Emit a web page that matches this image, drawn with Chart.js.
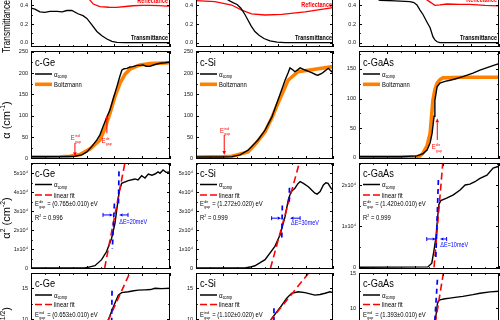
<!DOCTYPE html>
<html><head><meta charset="utf-8">
<script src="https://cdn.jsdelivr.net/npm/chart.js"></script>
<style>
html,body{margin:0;padding:0;background:#fff;overflow:hidden;width:500px;height:320px;position:relative}
canvas{position:absolute}
</style></head><body>
<script>
// ================= DATA =================
const materials = ['c-Ge', 'c-Si', 'c-GaAs'];
const xRanges = [[0.5, 1.0], [1.0, 1.5], [1.15, 1.65]];

// Row 1: transmittance / reflectance
const geT_E = [0.500,0.514,0.532,0.550,0.568,0.594,0.612,0.629,0.647,0.669,0.687,0.701,0.719,0.737,0.755,0.773,0.791,0.809,0.838,0.900,1.000];
const geT   = [0.370,0.360,0.330,0.325,0.335,0.335,0.330,0.345,0.345,0.310,0.290,0.260,0.190,0.120,0.075,0.040,0.015,0.004,0.000,0.000,0.000];
const geR_E = [0.500,0.650,0.690,0.705,0.712,0.724,0.748,0.780,0.808,0.840,0.867,0.900,0.928,0.960,0.989,1.000];
const geR   = [0.620,0.620,0.580,0.500,0.457,0.414,0.386,0.380,0.379,0.388,0.396,0.400,0.400,0.397,0.393,0.395];
const siT_E = [1.000,1.080,1.100,1.117,1.135,1.150,1.164,1.179,1.190,1.201,1.215,1.230,1.248,1.270,1.296,1.325,1.500];
const siT   = [0.530,0.530,0.510,0.457,0.430,0.410,0.370,0.300,0.240,0.180,0.120,0.080,0.045,0.020,0.006,0.000,0.000];
const siR_E = [1.000,1.069,1.130,1.167,1.203,1.252,1.313,1.398,1.500];
const siR   = [0.450,0.440,0.404,0.350,0.310,0.297,0.304,0.330,0.376];
const gaT_E = [1.150,1.200,1.225,1.279,1.332,1.346,1.357,1.368,1.379,1.393,1.404,1.414,1.421,1.429,1.439,1.650];
const gaT   = [0.500,0.490,0.455,0.448,0.440,0.430,0.405,0.350,0.300,0.220,0.160,0.065,0.030,0.010,0.000,0.000];
const gaR_E = [1.150,1.370,1.393,1.407,1.421,1.439,1.464,1.511,1.546,1.600,1.646,1.650];
const gaR   = [0.600,0.600,0.457,0.430,0.400,0.405,0.415,0.410,0.410,0.400,0.395,0.395];

// Row 2: alpha (cm^-1) and Boltzmann fit
const geA_E = [0.500,0.550,0.604,0.658,0.683,0.701,0.719,0.737,0.748,0.759,0.770,0.784,0.795,0.809,0.820,0.827,0.835,0.845,0.856,0.867,0.881,0.892,0.903,0.914,0.928,0.946,0.964,0.982,1.000];
const geA   = [3.5,3.5,4,5,8,15,28,43,55,74,92,113,138,168,193,207,210,211,214,215,218,218,219,216,216,220,223,224,226];
const geB_E = [0.500,0.604,0.640,0.676,0.712,0.748,0.766,0.784,0.802,0.820,0.838,0.856,0.892,0.928,1.000];
const geB   = [3,3.5,5,9,22,43,70,106,145,176,197,209,219,222,224];
const siA_E = [1.000,1.088,1.131,1.161,1.190,1.226,1.252,1.277,1.299,1.325,1.336,1.343,1.354,1.361,1.372,1.380,1.398,1.422,1.438,1.445,1.459,1.471,1.483,1.495,1.500];
const siA   = [3,3,4,8,19,43,66,97,136,183,200,212,207,203,208,212,207,201,196,195,199,205,211,203,206];
const siB_E = [1.000,1.106,1.131,1.190,1.219,1.252,1.277,1.299,1.336,1.372,1.434,1.500];
const siB   = [3,4,5,15,35,62,95,129,183,203,209,215];
const gaA_E = [1.150,1.296,1.357,1.379,1.393,1.404,1.411,1.418,1.421,1.429,1.439,1.457,1.475,1.493,1.521,1.557,1.582,1.618,1.636,1.650];
const gaA   = [1.7,1.7,3,7,13,25,41,70,97,120,126,129,131,133,137,143,148,154,157,159];
const gaB_E = [1.150,1.350,1.368,1.379,1.393,1.404,1.414,1.421,1.429,1.439,1.450,1.521,1.650];
const gaB   = [1,1,3,8,20,41,97,115,126,132,135,136,136];

// Row 3: alpha^2 (cm^-2)
const geA2_E = [0.500,0.694,0.712,0.730,0.754,0.772,0.790,0.802,0.810,0.818,0.826,0.850,0.874,0.885,0.898,0.910,0.922,0.935,0.946,0.957,0.964,0.975,0.986,1.000];
const geA2   = [0,0,600,1200,4400,8700,15700,23600,32400,40900,44700,46100,47000,46500,48700,47500,49600,49000,49600,50700,50000,51700,50500,50700];
const siA2_E = [1.000,1.179,1.197,1.215,1.252,1.288,1.307,1.325,1.337,1.347,1.361,1.372,1.380,1.392,1.410,1.423,1.434,1.442,1.453,1.465,1.474,1.482,1.493,1.500];
const siA2   = [0,0,500,1200,4400,11400,17500,27200,36000,40300,42100,44500,45600,44700,42900,41000,39500,39000,40300,43800,45000,44700,42000,41000];
const gaA2_E = [1.150,1.396,1.410,1.418,1.425,1.430,1.435,1.442,1.463,1.487,1.511,1.529,1.546,1.564,1.582,1.607,1.629,1.646,1.650];
const gaA2   = [0,100,1000,4200,7400,11500,15200,16200,16800,17600,18800,20000,20200,20800,21600,22400,24100,24500,24400];
const fitDir_E = [[0.765,0.845],[1.272,1.380],[1.418,1.450]];
const fitDir_V = [[0,61000],[0,57000],[0,26000]];
const blueDir_E = [[[0.8165,0.8145],[0.800,0.7925]], [[1.341,1.340],[1.315,1.313]], [[1.4335,1.4245]]];
const blueDir_V = [[[51000,33000],[34000,10000]], [[42300,33000],[33000,14000]], [[21200,2500]]];
const dEText = ['ΔE=20meV','ΔE=30meV','ΔE=10meV'];
const dEArrowY = [28000, 26300, 6880];
const dELeft  = [[0.759,0.795],[1.276,1.311],[1.392,1.425]];
const dERight = [[0.849,0.817],[1.380,1.343],[1.463,1.439]];
const dELabel = [[0.8176,23000],[1.347,22800],[1.4405,4860]];
const eDirText = ['(0.765±0.010) eV','(1.272±0.020) eV','(1.420±0.010) eV'];
const r2Text = ['0.996','0.999','0.999'];

// Row 4: alpha^(1/2) (cm^-1/2)
const geS_E = [0.500,0.600,0.660,0.700,0.737,0.759,0.778,0.796,0.814,0.826,0.850,0.870,0.886,0.910,0.930,0.946,0.970,1.000];
const geS   = [1.9,1.9,2.2,3.9,6.6,8.6,9.9,12.0,13.9,14.3,14.45,14.6,14.7,14.75,14.8,15.0,14.95,15.0];
const siS_E = [1.000,1.100,1.150,1.200,1.226,1.252,1.276,1.307,1.331,1.349,1.373,1.398,1.416,1.434,1.453,1.471,1.489,1.500];
const siS   = [1.7,2.0,2.6,4.5,6.6,8.1,10.1,11.9,13.4,14.2,14.45,14.3,14.1,13.9,14.0,14.2,14.45,14.3];
const gaS_E = [1.150,1.350,1.379,1.393,1.404,1.411,1.418,1.422,1.426,1.430,1.434,1.439,1.457,1.475,1.493,1.521,1.557,1.582,1.618,1.650];
const gaS   = [1.3,1.3,2.6,3.6,5.0,5.5,7.0,8.2,9.3,10.6,11.1,11.2,11.35,11.45,11.55,11.7,11.95,12.15,12.35,12.45];
const fitInd_E = [[0.678,0.855],[1.093,1.420],[1.391,1.455]];
const fitInd_V = [[0,17.45],[0,17.95],[0,16.0]];
const blueInd_E = [[0.7915,0.790],[1.2845,1.2845],[1.430,1.421]];
const blueInd_V = [[14.6,9.0],[11.8,9.0],[14.1,8.3]];
const eIndText = ['(0.653±0.010) eV','(1.102±0.020) eV','(1.393±0.010) eV'];

// Row 2 band-gap markers (arrow: E, from, to; label: E, value)
const gapArrows = [
  [{e:0.658,v1:36,v2:5,lab:'ind',lx:0.643,ly:42}, {e:0.773,v1:59,v2:101,lab:'dir',lx:0.754,ly:36.6}],
  [{e:1.103,v1:54.6,v2:7.7,lab:'ind',lx:1.0876,ly:60}],
  [{e:1.4296,v1:30,v2:66.6,lab:'dir',lx:1.4096,ly:14.2}]
];

// y-axis ranges and ticks per row/column
const yRanges = [
  [[-0.046,0.597],[-0.046,0.597],[-0.046,0.597]],
  [[-1.6,251.6],[-1.6,251.6],[-2.2,180.4]],
  [[-526,55420],[-526,55420],[-413,25350]],
  [[0.05,17.47],[0.05,17.47],[-0.5,15.07]]
];
const yTickVals = [
  [[0,0.2,0.4],[0,0.2,0.4],[0,0.2,0.4]],
  [[0,50,100,150,200,250],[0,50,100,150,200,250],[0,50,100,150]],
  [[0,1e4,2e4,3e4,4e4,5e4],[0,1e4,2e4,3e4,4e4,5e4],[0,1e4,2e4]],
  [[0,5,10,15],[0,5,10,15],[0,5,10,15]]
];
const yStep = [0.2, 50, 1e4, 5];

// ================= LAYOUT / DRAWING =================
const NARROW = (() => {
  const c = document.createElement('canvas').getContext('2d');
  c.font = '20px monospace'; const a = c.measureText('abcdefghijklmn').width;
  c.font = '20px "Liberation Sans Narrow", monospace'; const b = c.measureText('abcdefghijklmn').width;
  return Math.abs(a - b) > 0.5;
})();
const FAM = NARROW ? '"Liberation Sans Narrow","Liberation Sans",Arial,sans-serif' : '"Liberation Sans",Arial,sans-serif';
const FAM_N = '"Liberation Sans",Arial,sans-serif';
const SQ = NARROW ? 1 : 0.84;

const COLS = [{cl:0, pl:31, pr:170}, {cl:173, pl:196, pr:333}, {cl:337, pl:359, pr:499}];
const ROWS = [{pt:-13, pb:47}, {pt:51, pb:159}, {pt:163, pb:269}, {pt:273, pb:381}];
const PADT = 8, PADB = 12;

const pts = (xs, ys) => xs.map((x, i) => ({x, y: ys[i]}));
const ds = (xs, ys, color, w, dash) => ({data: pts(xs, ys), borderColor: color, borderWidth: w,
  borderDash: dash || [], pointRadius: 0, fill: false, tension: 0, borderCapStyle: 'butt'});

function drawRich(ctx, x, y, parts, o) {
  const size = o.size || 7, bold = o.bold ? 'bold ' : '';
  const fam = o.fam || FAM;
  const sq = (o.sq === undefined ? (o.fam ? 1 : SQ) : o.sq);
  const small = size * 0.62;
  const F = s => bold + s + 'px ' + fam;
  ctx.save();
  ctx.translate(x, y);
  if (o.rot) ctx.rotate(o.rot);
  ctx.scale(sq, 1);
  ctx.textBaseline = 'alphabetic'; ctx.textAlign = 'left';
  ctx.fillStyle = o.color || '#000';
  const items = []; let w = 0;
  for (const p of parts) {
    if (typeof p === 'string') { ctx.font = F(size); items.push([p, w, 0, F(size)]); w += ctx.measureText(p).width; }
    else if (p.sup != null) { ctx.font = F(small); items.push([p.sup, w, -size * 0.42, F(small)]); w += ctx.measureText(p.sup).width; }
    else if (p.sub != null) { ctx.font = F(small); items.push([p.sub, w, size * 0.25, F(small)]); w += ctx.measureText(p.sub).width; }
    else if (p.ss) {
      ctx.font = F(small);
      items.push([p.ss[0], w + 0.3, -size * 0.45, F(small)]);
      items.push([p.ss[1], w + 0.3, size * 0.32, F(small)]);
      w += Math.max(ctx.measureText(p.ss[0]).width, ctx.measureText(p.ss[1]).width) + 0.8;
    }
  }
  const ox = o.align === 'center' ? -w / 2 : o.align === 'right' ? -w : 0;
  for (const [t, dx, dy, f] of items) { ctx.font = f; ctx.fillText(t, ox + dx, dy); }
  ctx.restore();
}

function arrow(ctx, x1, y1, x2, y2, color, lw, hl, bar) {
  ctx.save(); ctx.strokeStyle = color; ctx.fillStyle = color; ctx.lineWidth = lw; ctx.setLineDash([]);
  const a = Math.atan2(y2 - y1, x2 - x1), c = Math.cos(a), s = Math.sin(a);
  const bx = x2 - hl * c, by = y2 - hl * s;
  ctx.beginPath(); ctx.moveTo(x1, y1); ctx.lineTo(bx, by); ctx.stroke();
  ctx.beginPath(); ctx.moveTo(x2, y2);
  ctx.lineTo(bx + hl * 0.45 * s, by - hl * 0.45 * c);
  ctx.lineTo(bx - hl * 0.45 * s, by + hl * 0.45 * c);
  ctx.closePath(); ctx.fill();
  if (bar) { ctx.beginPath(); ctx.moveTo(x1 - bar * s, y1 - bar * c); ctx.lineTo(x1 + bar * s, y1 + bar * c); ctx.stroke(); }
  ctx.restore();
}

function line(ctx, x1, y1, x2, y2, color, lw, dash) {
  ctx.save(); ctx.strokeStyle = color; ctx.lineWidth = lw; ctx.setLineDash(dash || []);
  ctx.beginPath(); ctx.moveTo(x1, y1); ctx.lineTo(x2, y2); ctx.stroke(); ctx.restore();
}

function drawFrame(chart, cfg) {
  const {ctx, chartArea: a, scales: {x, y}} = chart;
  ctx.save();
  ctx.strokeStyle = '#000'; ctx.lineWidth = 1; ctx.setLineDash([]);
  ctx.strokeRect(a.left + 0.5, a.top + 0.5, a.right - a.left - 1, a.bottom - a.top - 1);
  const t = (x1, y1, x2, y2) => { ctx.beginPath(); ctx.moveTo(x1, y1); ctx.lineTo(x2, y2); ctx.stroke(); };
  const [x0, x1] = cfg.xr;
  for (let k = 0; x0 + k * 0.05 <= x1 + 1e-9; k++) {
    const px = Math.round(x.getPixelForValue(x0 + k * 0.05)) + 0.5, L = k % 2 === 0 ? 3 : 1.8;
    t(px, a.bottom, px, a.bottom - L); t(px, a.top, px, a.top + L);
  }
  const st = cfg.yStep / 2;
  for (let k = 0; k * st <= cfg.yr[1] + 1e-9; k++) {
    const v = k * st; if (v < cfg.yr[0]) continue;
    const py = Math.round(y.getPixelForValue(v)) + 0.5, L = k % 2 === 0 ? 3 : 1.8;
    t(a.left, py, a.left + L, py); t(a.right, py, a.right - L, py);
  }
  ctx.restore();
  if (cfg.notes) {
    const P = (px, py) => [px - cfg.canvasLeft, py - cfg.canvasTop];
    const X = v => x.getPixelForValue(v), Y = v => y.getPixelForValue(v);
    cfg.notes(ctx, P, X, Y);
  }
}

function makePanel(cfg) {
  const C = COLS[cfg.col], R = ROWS[cfg.row];
  const cv = document.createElement('canvas');
  const left = C.cl, top = R.pt - PADT;
  const W = C.pr + 2 - C.cl, H = (R.pb - R.pt) + PADT + PADB;
  cv.width = W; cv.height = H;
  cv.style.left = left + 'px'; cv.style.top = top + 'px';
  cv.style.width = W + 'px'; cv.style.height = H + 'px';
  document.body.appendChild(cv);
  cfg.canvasLeft = left; cfg.canvasTop = top;
  const L = C.pl - C.cl;
  new Chart(cv, {
    type: 'line',
    data: {datasets: cfg.datasets},
    options: {
      responsive: false, animation: false, devicePixelRatio: 1,
      layout: {padding: {left: 0, right: 2, top: PADT, bottom: PADB}},
      plugins: {legend: {display: false}, tooltip: {enabled: false}},
      scales: {
        x: {type: 'linear', display: false, min: cfg.xr[0], max: cfg.xr[1]},
        y: {type: 'linear', min: cfg.yr[0], max: cfg.yr[1],
          afterFit(s) { s.width = L; },
          afterBuildTicks(s) { s.ticks = cfg.yTicks.map(v => ({value: v})); },
          grid: {display: false, drawTicks: false}, border: {display: false},
          ticks: {autoSkip: false, padding: 3, color: '#111', font: {family: FAM, size: 5.5}, callback: cfg.yFmt}}
      },
      elements: {point: {radius: 0}, line: {tension: 0}}
    },
    plugins: [{id: 'frame' + cfg.col + cfg.row, afterDatasetsDraw(chart) { drawFrame(chart, cfg); }}]
  });
}

const BLACK = '#000', RED = '#FF0000', ORANGE = '#FF8000', BLUE = '#0000FF';
const fmts = [
  v => v.toFixed(1),
  v => String(v),
  v => v === 0 ? '0' : Math.round(v / 1e4) + 'x10\u2074',
  v => String(v)
];

const row1 = [[geT_E, geT, geR_E, geR], [siT_E, siT, siR_E, siR], [gaT_E, gaT, gaR_E, gaR]];
const row2 = [[geA_E, geA, geB_E, geB], [siA_E, siA, siB_E, siB], [gaA_E, gaA, gaB_E, gaB]];
const row3 = [[geA2_E, geA2], [siA2_E, siA2], [gaA2_E, gaA2]];
const row4 = [[geS_E, geS], [siS_E, siS], [gaS_E, gaS]];
const reflPos = [[168, 2.5], [332, 6.5], [497, 1.5]];

for (let c = 0; c < 3; c++) {
  const C = COLS[c];
  const base = r => ({col: c, row: r, xr: xRanges[c], yr: yRanges[r][c], yTicks: yTickVals[r][c], yStep: yStep[r], yFmt: fmts[r]});

  // Row 1
  makePanel(Object.assign(base(0), {
    datasets: [ds(row1[c][0], row1[c][1], BLACK, 1.3), ds(row1[c][2], row1[c][3], RED, 1.3)],
    notes(ctx, P) {
      drawRich(ctx, ...P(reflPos[c][0], reflPos[c][1]), ['Reflectance'], {size: 6.5, bold: true, color: RED, align: 'right'});
      drawRich(ctx, ...P(reflPos[c][0], 39.5), ['Transmittance'], {size: 6.5, bold: true, color: BLACK, align: 'right'});
      if (c === 0) drawRich(ctx, ...P(9.5, 53), ['Transmittance'], {size: 10, rot: -Math.PI / 2, fam: FAM_N, sq: 0.84, align: 'left'});
    }
  }));

  // Row 2
  makePanel(Object.assign(base(1), {
    datasets: [ds(row2[c][0], row2[c][1], BLACK, 1.4), ds(row2[c][2], row2[c][3], ORANGE, 3.6)],
    notes(ctx, P, X, Y) {
      const t = ROWS[1].pt, l = C.pl;
      drawRich(ctx, ...P(l + 4, t + 15), [materials[c]], {size: 11});
      line(ctx, ...P(l + 4, t + 23), ...P(l + 21, t + 23), BLACK, 1.5);
      drawRich(ctx, ...P(l + 23, t + 25.5), ['α', {sub: 'comp'}], {size: 7.5});
      line(ctx, ...P(l + 4, t + 33.3), ...P(l + 21, t + 33.3), ORANGE, 3.6);
      drawRich(ctx, ...P(l + 23, t + 35.8), ['Boltzmann'], {size: 7});
      for (const g of gapArrows[c]) {
        arrow(ctx, X(g.e), Y(g.v1), X(g.e), Y(g.v2), RED, 1, 4);
        drawRich(ctx, X(g.lx), Y(g.ly), ['E', {ss: [g.lab, 'gap']}], {size: 7, color: RED});
      }
      if (c === 0) drawRich(ctx, ...P(10, 120), ['α (cm', {sup: '-1'}, ')'], {size: 11, rot: -Math.PI / 2, fam: FAM_N, align: 'center'});
    }
  }));

  // Row 3
  const blues3 = blueDir_E[c].map((e, i) => ds(e, blueDir_V[c][i], BLUE, 1.7, [5, 4]));
  makePanel(Object.assign(base(2), {
    datasets: [...blues3, ds(fitDir_E[c], fitDir_V[c], RED, 1.6, [7, 4]), ds(row3[c][0], row3[c][1], BLACK, 1.4)],
    notes(ctx, P, X, Y) {
      const t = ROWS[2].pt, l = C.pl;
      drawRich(ctx, ...P(l + 4, t + 14), [materials[c]], {size: 11});
      line(ctx, ...P(l + 4, t + 21.5), ...P(l + 21, t + 21.5), BLACK, 1.5);
      drawRich(ctx, ...P(l + 23, t + 24), ['α', {sub: 'comp'}], {size: 7.5});
      line(ctx, ...P(l + 4, t + 32), ...P(l + 22, t + 32), RED, 1.6, [7, 3]);
      drawRich(ctx, ...P(l + 23, t + 34.5), ['linear fit'], {size: 7});
      drawRich(ctx, ...P(l + 4, t + 43), ['E', {ss: ['dir', 'gap']}, ' = ' + eDirText[c]], {size: 7});
      drawRich(ctx, ...P(l + 4, t + 56.5), ['R', {sup: '2'}, ' = ' + r2Text[c]], {size: 7});
      const yy = Y(dEArrowY[c]);
      arrow(ctx, X(dELeft[c][0]), yy, X(dELeft[c][1]), yy, BLUE, 1, 3.5, 2);
      arrow(ctx, X(dERight[c][0]), yy, X(dERight[c][1]), yy, BLUE, 1, 3.5, 2);
      drawRich(ctx, X(dELabel[c][0]), Y(dELabel[c][1]), [dEText[c]], {size: 6.5, color: BLUE});
      if (c === 0) drawRich(ctx, ...P(10, 218), ['α', {sup: '2'}, ' (cm', {sup: '-2'}, ')'], {size: 11, rot: -Math.PI / 2, fam: FAM_N, align: 'center'});
    }
  }));

  // Row 4
  makePanel(Object.assign(base(3), {
    datasets: [ds(blueInd_E[c], blueInd_V[c], BLUE, 1.7, [5, 4]), ds(fitInd_E[c], fitInd_V[c], RED, 1.6, [7, 4]), ds(row4[c][0], row4[c][1], BLACK, 1.4)],
    notes(ctx, P) {
      const t = ROWS[3].pt, l = C.pl;
      drawRich(ctx, ...P(l + 4, t + 14.3), [materials[c]], {size: 11});
      line(ctx, ...P(l + 4, t + 22), ...P(l + 21, t + 22), BLACK, 1.5);
      drawRich(ctx, ...P(l + 23, t + 24.5), ['α', {sub: 'comp'}], {size: 7.5});
      line(ctx, ...P(l + 4, t + 31.5), ...P(l + 22, t + 31.5), RED, 1.6, [7, 3]);
      drawRich(ctx, ...P(l + 23, t + 34), ['linear fit'], {size: 7});
      drawRich(ctx, ...P(l + 4, t + 44), ['E', {ss: ['ind', 'gap']}, ' = ' + eIndText[c]], {size: 7});
      if (c === 0) drawRich(ctx, ...P(10, 307), ['α', {sup: '1/2'}, ' (cm', {sup: '-1/2'}, ')'], {size: 11, rot: -Math.PI / 2, fam: FAM_N, align: 'right'});
    }
  }));
}
</script>
</body></html>
